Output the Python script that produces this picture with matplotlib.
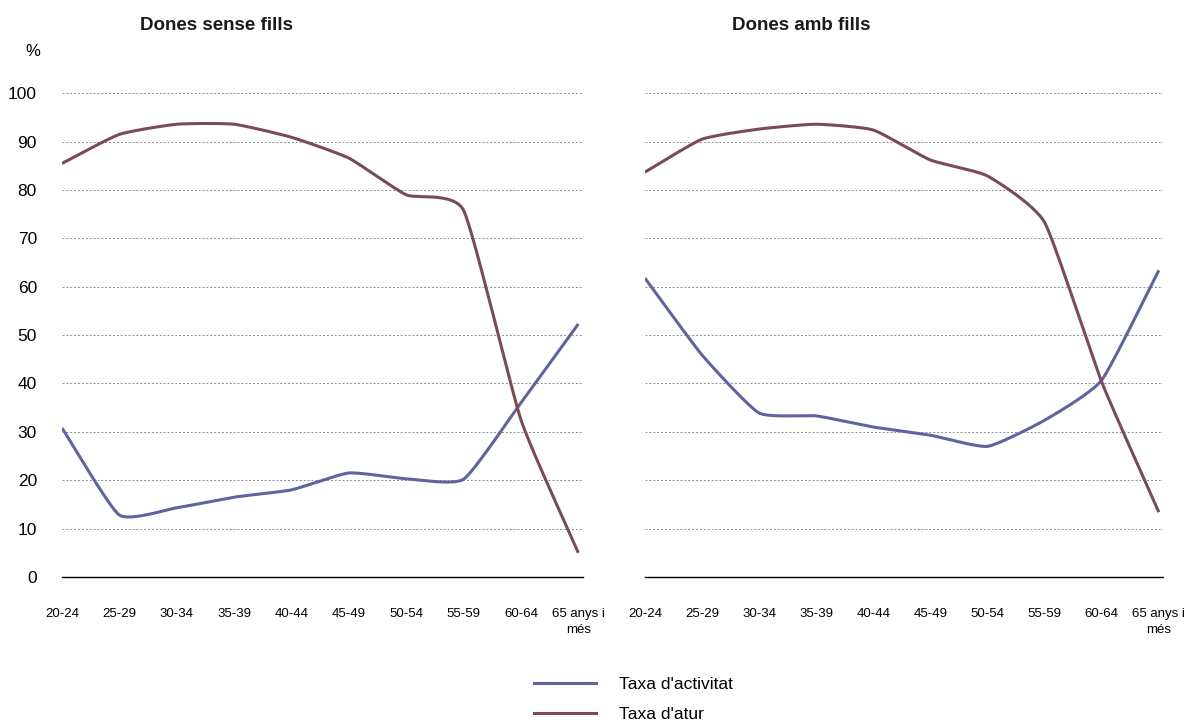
import numpy as np
import matplotlib
matplotlib.use("Agg")
import matplotlib.pyplot as plt
from matplotlib.lines import Line2D

plt.rcParams["font.family"] = ["Liberation Sans", "DejaVu Sans"]

# age groups
ages = ["20-24", "25-29", "30-34", "35-39", "40-44", "45-49",
        "50-54", "55-59", "60-64", "65 anys i\nmés"]

# women without children
sense_activitat = [30.8, 12.8, 14.3, 16.5, 18.0, 21.5, 20.3, 20.2, 36.0, 52.3]
sense_atur = [85.5, 91.5, 93.6, 93.6, 90.9, 86.6, 79.0, 75.8, 32.5, 5.0]

# women with children
amb_activitat = [61.8, 45.9, 33.9, 33.3, 31.0, 29.3, 27.0, 32.4, 40.7, 63.4]
amb_atur = [83.7, 90.5, 92.6, 93.6, 92.4, 86.2, 82.9, 73.3, 40.3, 13.4]

titles = ["Dones sense fills", "Dones amb fills"]
series_names = ["Taxa d'activitat", "Taxa d'atur"]

BLUE = "#5f639e"
BROWN = "#7b4b55"


def smooth(y, n=30, k=0.5):
    # cardinal spline, similar to spreadsheet "smoothed lines"
    y = np.asarray(y, dtype=float)
    x = np.arange(len(y), dtype=float)
    px = np.concatenate([[2 * x[0] - x[1]], x, [2 * x[-1] - x[-2]]])
    py = np.concatenate([[2 * y[0] - y[1]], y, [2 * y[-1] - y[-2]]])
    xs, ys = [], []
    t = np.linspace(0, 1, n, endpoint=False)
    h00 = 2 * t**3 - 3 * t**2 + 1
    h10 = t**3 - 2 * t**2 + t
    h01 = -2 * t**3 + 3 * t**2
    h11 = t**3 - t**2
    for i in range(1, len(px) - 2):
        for p, out in ((px, xs), (py, ys)):
            p0, p1, p2, p3 = p[i - 1], p[i], p[i + 1], p[i + 2]
            m1 = (p2 - p0) / 2 * k
            m2 = (p3 - p1) / 2 * k
            out.extend(h00 * p1 + h10 * m1 + h01 * p2 + h11 * m2)
    xs.append(x[-1])
    ys.append(y[-1])
    return np.array(xs), np.array(ys)


fig = plt.figure(figsize=(11.92, 7.23), dpi=100)
ax1 = fig.add_axes([0.052, 0.202, 0.437, 0.669])
ax2 = fig.add_axes([0.541, 0.202, 0.435, 0.669])

data = [(sense_activitat, sense_atur), (amb_activitat, amb_atur)]

for ax, (act, atur) in zip([ax1, ax2], data):
    for val, color in ((act, BLUE), (atur, BROWN)):
        xs, ys = smooth(val)
        ax.plot(xs, ys, color=color, lw=2.2, solid_capstyle="butt", zorder=3)
    ax.set_ylim(0, 100)
    ax.set_xlim(0, 9.08)
    ax.set_yticks(range(0, 101, 10))
    ax.set_xticks(range(len(ages)))
    ax.set_xticklabels(ages, fontsize=9.5, linespacing=1.5)
    ax.yaxis.grid(True, linestyle=(0, (2, 2)), color="#8c8c8c", lw=0.7)
    ax.set_axisbelow(True)
    for s in ["top", "right", "left"]:
        ax.spines[s].set_visible(False)
    ax.spines["bottom"].set_color("black")
    ax.spines["bottom"].set_linewidth(1.0)
    ax.tick_params(axis="both", length=0)
    ax.tick_params(axis="x", pad=22)
    ax.tick_params(axis="y", labelsize=12.5, pad=18)

ax2.set_yticklabels([])

fig.text(217 / 1192, 1 - 25 / 723, titles[0], ha="center", va="center",
         fontsize=13.5, fontweight="bold", color="#1a1a1a")
fig.text(801 / 1192, 1 - 25 / 723, titles[1], ha="center", va="center",
         fontsize=13.5, fontweight="bold", color="#1a1a1a")
fig.text(33 / 1192, 1 - 52 / 723, "%", ha="center", va="center", fontsize=12)

handles = [Line2D([], [], color=BLUE, lw=2.2), Line2D([], [], color=BROWN, lw=2.2)]
fig.legend(handles, series_names, loc="upper left",
           bbox_to_anchor=(527 / 1192, 1 - 670 / 723), frameon=False,
           fontsize=12.5, handlelength=3.6, handletextpad=1.3, labelspacing=0.85,
           borderaxespad=0)

fig.savefig("out.png", dpi=100)
